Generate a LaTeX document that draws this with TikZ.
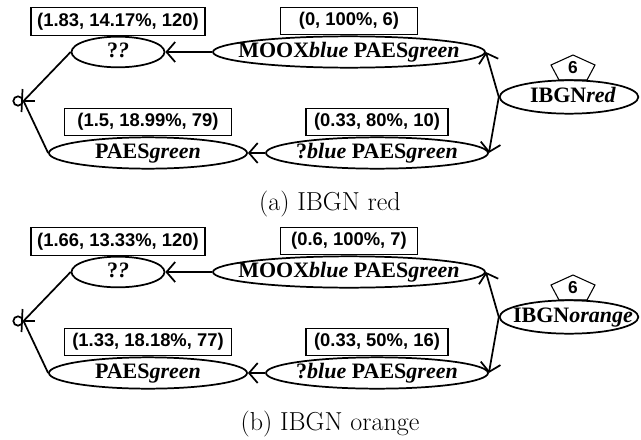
\documentclass[tikz,border=0pt]{standalone}
\usepackage{fontspec}
\newfontfamily\entfont{Liberation Serif}
\newfontfamily\valfont{Liberation Sans}
\usetikzlibrary{arrows.meta,positioning,shapes.geometric}

\tikzset{
  ent/.style={draw, ellipse, line width=1.3pt, inner sep=0pt, fill=white},
  enttext/.style={font=\entfont\bfseries\fontsize{16.5}{18}\selectfont,
    text height=11pt, text depth=3.5pt, inner sep=0pt},
  val/.style={draw, line width=0.8pt, fill=white, anchor=south,
    font=\valfont\bfseries\fontsize{13.8}{15}\selectfont,
    text height=10pt, text depth=3pt, inner xsep=4pt, inner ysep=3.8pt},
  link/.style={line width=1.3pt},
  arr/.style={line width=1.3pt, -{Straight Barb[length=6.5pt,width=15pt]}},
}

\begin{document}
\begin{tikzpicture}[x=0.75pt, y=-0.75pt]

	\useasboundingbox (0,0) rectangle (641,439);

	\foreach \dy/\p/\col/\qa/\qb/\qc/\qd in
	{
		0/a/red/{(1.83, 14.17\%, 120)}/{(0, 100\%, 6)}/{(1.5, 18.99\%, 79)}/{(0.33, 80\%, 10)},
		220/b/orange/{(1.66, 13.33\%, 120)}/{(0.6, 100\%, 7)}/{(1.33, 18.18\%, 77)}/{(0.33, 50\%, 16)}
	}
	{
		% entities
		\node[ent, minimum width=69.75pt, minimum height=23pt] (qq\p) at (118,52+\dy) {};
		\node[ent, minimum width=204pt, minimum height=23.5pt] (moox\p) at (349,52+\dy) {};
		\node[ent, minimum width=148.5pt, minimum height=23.5pt] (paes\p) at (148,153+\dy) {};
		\node[ent, minimum width=166.5pt, minimum height=23.5pt] (qblue\p) at (377,153+\dy) {};

		\draw[line width=0.8pt, fill=white]
		(573,55+\dy) -- (551,65+\dy) -- (559,80+\dy) -- (587,80+\dy) -- (595,65+\dy) -- cycle;
		\node[ent, minimum width=104pt, minimum height=25pt] (ibgn\p) at (569,97+\dy) {};
		\node[font=\valfont\bfseries\fontsize{13}{15}\selectfont, inner sep=0pt] (cnt\p) at (573,68+\dy) {6};

		\node[enttext] (tqq\p) at (qq\p) {?\textit{?}};
		\node[enttext] (tmoox\p) at (moox\p) {MOOX\textit{blue} PAES\textit{green}};
		\node[enttext] (tpaes\p) at (paes\p) {PAES\textit{green}};
		\node[enttext] (tqblue\p) at (qblue\p) {?\textit{blue} PAES\textit{green}};
		\node[enttext] (tibgn\p) at ([xshift=3pt]ibgn\p.center) {IBGN\textit{\col}};

		% value boxes
		\node[val, minimum width=130.5pt] (vqq\p) at (qq\p.north) {\qa};
		\node[val, minimum width=103pt] (vmoox\p) at (moox\p.north) {\qb};
		\node[val, minimum width=125pt] (vpaes\p) at (paes\p.north) {\qc};
		\node[val, minimum width=106.5pt] (vqblue\p) at (qblue\p.north) {\qd};

		% root, zero or many
		\node[draw, circle, line width=1.3pt, inner sep=0pt, minimum size=7pt] (root\p) at (18,101+\dy) {};
		\draw[link] (root\p.east) -- (qq\p.west);
		\draw[link] (root\p.east) -- (paes\p.west);
		\draw[link] (root\p.east) -- ++(11,0);
		\draw[link] (root\p.east) ++(-1,-12) -- ++(-1,23);

		\draw[arr] (moox\p.west) -- (qq\p.east);
		\draw[arr] (qblue\p.west) -- (paes\p.east);
		\draw[arr] (ibgn\p.west) -- (moox\p.east);
		\draw[arr] (ibgn\p.west) -- (qblue\p.east);

		\node[font=\fontsize{19.5}{22}\selectfont, anchor=base] (cap\p) at (330,210+\dy) {(\p) IBGN \col};
	}

\end{tikzpicture}
\end{document}
